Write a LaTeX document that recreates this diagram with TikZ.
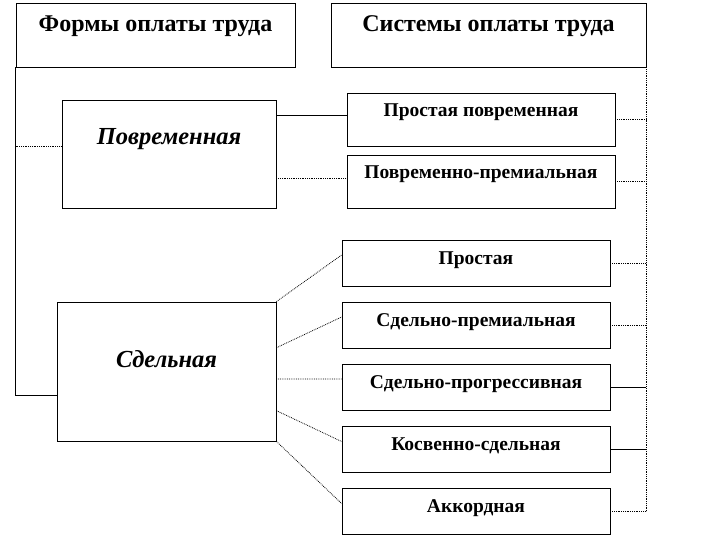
\documentclass[tikz,border=0pt]{standalone}
\usepackage{fontspec}
\setmainfont{Liberation Serif}
\usetikzlibrary{calc}

\tikzset{
  headbox/.style={draw, line width=0.8pt, inner sep=0pt,
    font=\fontsize{24}{28}\selectfont\bfseries, text height=29pt, text depth=35pt},
  kindbox/.style={draw, line width=0.8pt, inner sep=0pt,
    font=\fontsize{24.5}{28}\selectfont\bfseries\itshape},
  sysbox/.style={draw, line width=0.8pt, inner sep=0pt, minimum width=268pt,
    font=\fontsize{19.5}{23}\selectfont\bfseries, text height=24pt, text depth=22pt},
  solidline/.style={line width=0.8pt},
  dotline/.style={line width=0.8pt, densely dotted}
}

\begin{document}
\begin{tikzpicture}[x=1pt,y=-1pt]
    \useasboundingbox (0,0) rectangle (726,551);

    % Headers
    \node[headbox, minimum width=279pt] (forms) at (155.5,35) {Формы оплаты труда};
    \node[headbox, minimum width=315pt] (systems) at (488.5,35) {Системы оплаты труда};

    % Forms of pay
    \node[kindbox, minimum width=214pt, text height=44pt, text depth=64pt] (timebased) at (169,154) {Повременная};
    \node[kindbox, minimum width=219pt, text height=65pt, text depth=74pt] (piecework) at (166.5,371.5) {Сдельная};

    % Time-based systems
    \node[sysbox, text height=23pt, text depth=30pt] (tsimple) at (481,119.5) {Простая повременная};
    \node[sysbox, text height=23pt, text depth=30pt] (tbonus) at (481,181.5) {Повременно-премиальная};

    % Piece-rate systems
    \node[sysbox] (psimple) at (476,263) {Простая};
    \node[sysbox] (pbonus) at (476,325) {Сдельно-премиальная};
    \node[sysbox] (pprog) at (476,387) {Сдельно-прогрессивная};
    \node[sysbox] (pindirect) at (476,449.5) {Косвенно-сдельная};
    \node[sysbox] (pchord) at (476,511.5) {Аккордная};

    % Left trunk
    \coordinate (trunkend) at (forms.south west |- 0,395);
    \draw[solidline] (forms.south west) -- (trunkend) -- (trunkend -| piecework.west);
    \draw[dotline] ([yshift=8pt]timebased.west -| forms.west) -- ([yshift=8pt]timebased.west);

    % Time-based links
    \draw[solidline] ([yshift=4pt]tsimple.west -| timebased.east) -- ([yshift=4pt]tsimple.west);
    \draw[dotline] ([yshift=3pt]tbonus.west -| timebased.east) -- ([yshift=3pt]tbonus.west);

    % Piece-rate fan
    \foreach \b/\f in {psimple/0, pbonus/0.33, pprog/0.554, pindirect/0.78, pchord/1}
        \draw[dotline] ($(piecework.north east)!\f!(piecework.south east)$) -- ([yshift=8pt]\b.west);

    % Right trunk
    \draw[dotline] (systems.south east) -- (systems.east |- pchord.east);
    \foreach \b in {tsimple, tbonus, psimple, pbonus, pchord}
        \draw[dotline] (\b.east) -- (\b.east -| systems.east);
    \foreach \b in {pprog, pindirect}
        \draw[solidline] (\b.east) -- (\b.east -| systems.east);
\end{tikzpicture}
\end{document}
